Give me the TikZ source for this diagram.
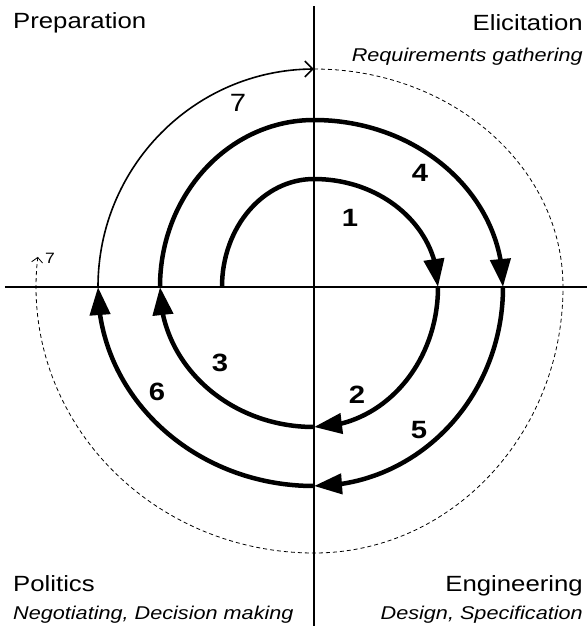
\documentclass[tikz,border=0pt]{standalone}
\usepackage{fontspec}
\setmainfont{Liberation Sans}[FakeStretch=1.17]
\usetikzlibrary{arrows.meta, bending}

\begin{document}
\begin{tikzpicture}[x=1pt, y=1pt,
    axis/.style={line width=1.2pt},
    turn/.style={line width=4.5pt, -{Triangle[length=28pt, width=20pt, flex]}},
    lastturn/.style={line width=1.6pt, -{Straight Barb[length=8pt, width=16pt]}},
    nextturn/.style={line width=0.8pt, dash pattern=on 4pt off 3pt, -{Straight Barb[length=5pt, width=11pt]}},
    num/.style={inner sep=0pt, font=\fontsize{25}{30}\selectfont\bfseries},
    phase/.style={inner sep=0pt, font=\fontsize{22}{26}\selectfont},
    task/.style={inner sep=0pt, font=\fontsize{18.5}{22}\selectfont\itshape}]
    \useasboundingbox (-314,-343) rectangle (273,287);

    % axes
    \coordinate (w) at (-309,0);
    \coordinate (e) at (273,0);
    \coordinate (n) at (0,281);
    \coordinate (s) at (0,-339);
    \draw[axis] (w) -- (e);
    \draw[axis] (n) -- (s);

    % where each turn starts
    \coordinate (p0) at (-92,0);
    \coordinate (p1) at (124,0);
    \coordinate (p2) at (0,-140);
    \coordinate (p3) at (-154,0);
    \coordinate (p4) at (189,0);
    \coordinate (p5) at (0,-199);
    \coordinate (p6) at (-216,0);
    \coordinate (p7) at (0,218);

    % spiral
    \draw[turn] (p0) arc[start angle=180, end angle=90, x radius=92, y radius=108]
        arc[start angle=90, end angle=0, x radius=124, y radius=108];
    \draw[turn] (p1) arc[start angle=0, end angle=-90, x radius=124, y radius=140];
    \draw[turn] (p2) arc[start angle=-90, end angle=-180, x radius=154, y radius=140];
    \draw[turn] (p3) arc[start angle=180, end angle=90, x radius=154, y radius=167]
        arc[start angle=90, end angle=0, x radius=189, y radius=167];
    \draw[turn] (p4) arc[start angle=0, end angle=-90, x radius=189, y radius=199];
    \draw[turn] (p5) arc[start angle=-90, end angle=-180, x radius=216, y radius=199];
    \draw[lastturn] (p6) arc[start angle=180, end angle=90, x radius=216, y radius=218];
    \draw[nextturn] (p7) arc[start angle=90, end angle=0, x radius=249, y radius=218]
        arc[start angle=0, end angle=-90, x radius=249, y radius=266]
        arc[start angle=-90, end angle=-186.5, x radius=278, y radius=266];

    % turn numbers
    \node[num] (n1) at (36,69) {1};
    \node[num] (n2) at (43,-108) {2};
    \node[num] (n3) at (-94,-76) {3};
    \node[num] (n4) at (106,114) {4};
    \node[num] (n5) at (105,-143) {5};
    \node[num] (n6) at (-157,-105) {6};
    \node[num, font=\fontsize{25}{30}\selectfont] (n7) at (-76,184) {7};
    \node[num, font=\fontsize{15}{18}\selectfont] (n8) at (-264,29) {7};

    % quadrants
    \node[phase, anchor=base west] (prep) at (-301,259) {Preparation};
    \node[phase, anchor=base east] (elic) at (269,257) {Elicitation};
    \node[task, anchor=base east] (elict) at (269,226) {Requirements gathering};
    \node[phase, anchor=base west] (pol) at (-301,-304) {Politics};
    \node[task, anchor=base west] (polt) at (-301,-332) {Negotiating, Decision making};
    \node[phase, anchor=base east] (eng) at (269,-304) {Engineering};
    \node[task, anchor=base east] (engt) at (269,-332) {Design, Specification};
\end{tikzpicture}
\end{document}
